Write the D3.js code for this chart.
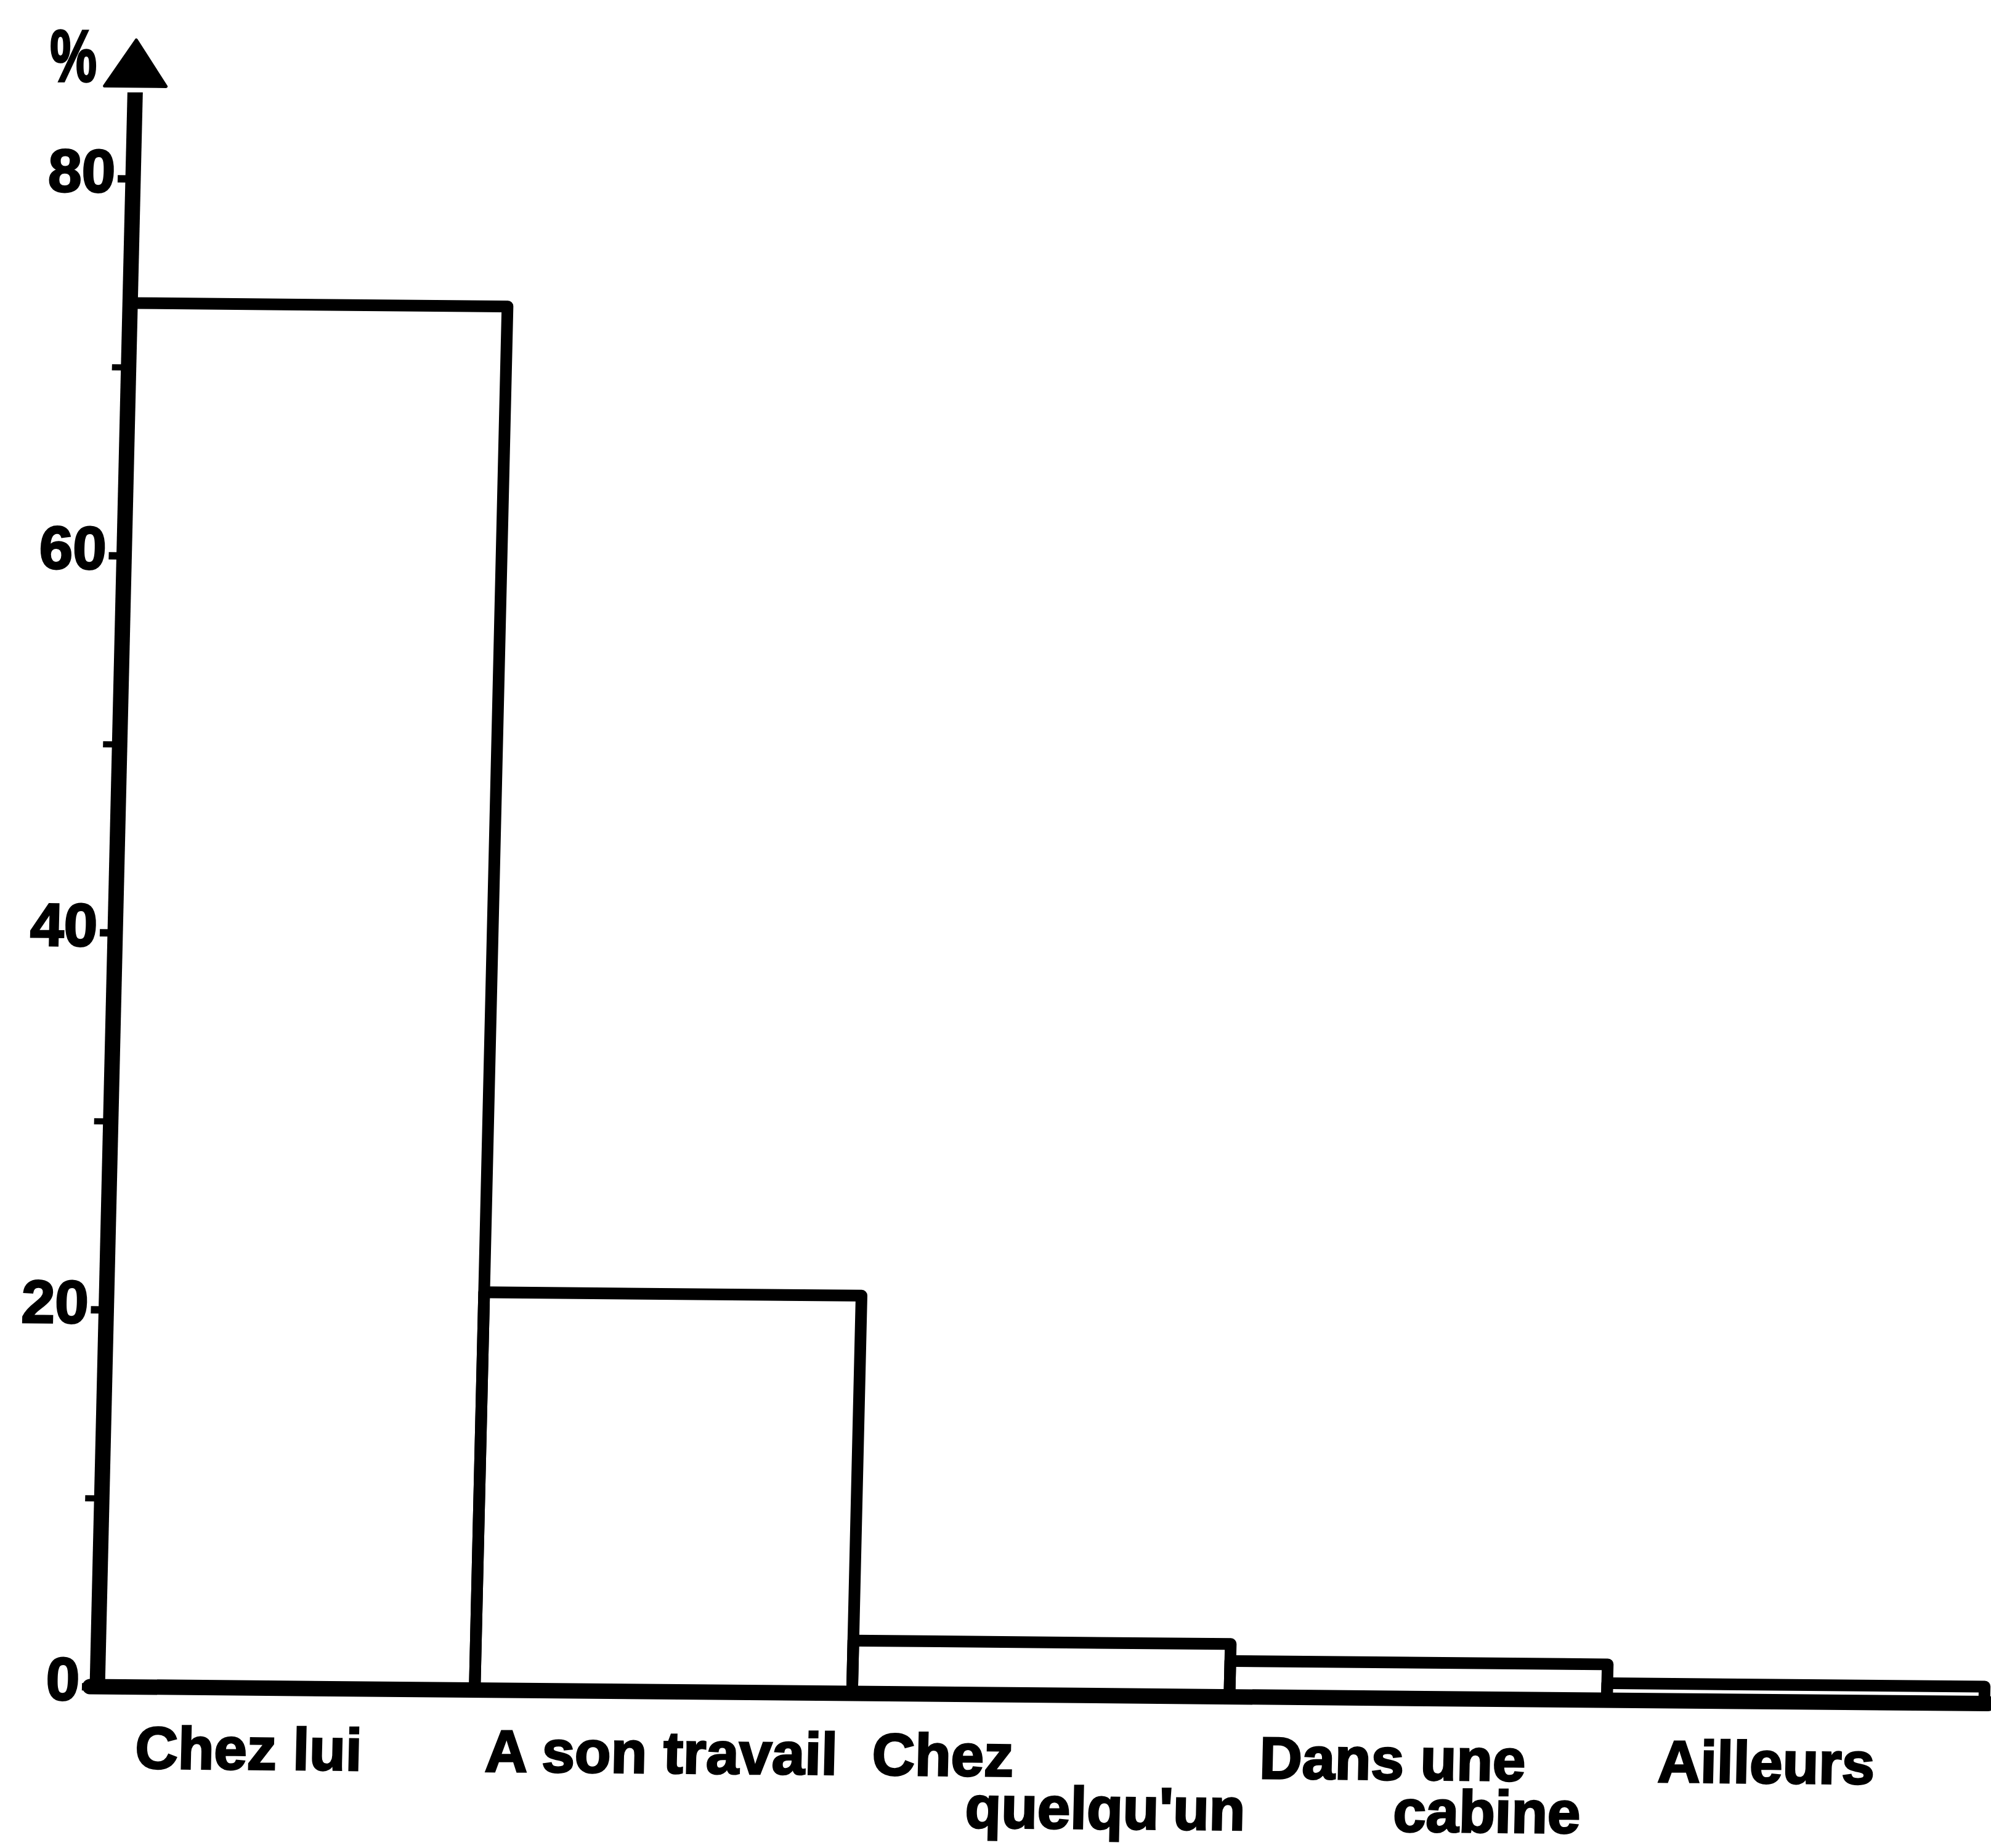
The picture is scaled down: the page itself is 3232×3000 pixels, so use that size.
<!DOCTYPE html>
<html>
<head>
<meta charset="utf-8">
<script src="https://cdn.jsdelivr.net/npm/d3@7"></script>
<style>
  body { margin: 0; background: #fff; }
  text { font-family: "Liberation Sans", Arial, sans-serif; font-weight: bold; fill: #000; stroke: #000; stroke-width: 3px; }
</style>
</head>
<body>
<svg id="bar-chart"></svg>
<script>
// data
let categories = ['Chez lui', 'A son travail', "Chez quelqu'un", 'Dans une cabine', 'Ailleurs'];
let labelLines = [['Chez lui'], ['A son travail'], ['Chez', "quelqu'un"], ['Dans une', 'cabine'], ['Ailleurs']];
let percents = [73.4, 21.1, 2.8, 1.9, 0.9];
let majorTicks = [0, 20, 40, 60, 80];
let minorTicks = [10, 30, 50, 70];
let axisTitle = '%';

// layout only: left offset of each label line inside its bar
let labelDx = [[64], [19], [35, 188], [51, 270], [85]];

let config = {
  'svg': {},
  'plot': {}
};

config.svg.width = 3232;
config.svg.height = 3000;

// origin of the axes (bottom left corner)
config.plot.x = 158;
config.plot.y = 2738;
config.plot.width = 3063;
config.plot.height = 2448; // height of the 80 tick
config.plot.axisTop = 2598; // arrow base
config.plot.arrowLen = 75;

// the scan is a little skewed: baseline drops to the right, y axis leans right
config.skew = { 'b': 0.009, 'c': -0.0237 };

let svg = d3.select('body').select('#bar-chart');
svg.attr('width', config.svg.width);
svg.attr('height', config.svg.height);

let plot = svg.append('g')
  .attr('id', 'plot')
  .attr('transform', 'matrix(1,' + config.skew.b + ',' + config.skew.c + ',1,' +
    config.plot.x + ',' + config.plot.y + ')');

let xScale = d3.scaleBand()
  .domain(categories)
  .range([0, config.plot.width])
  .padding(0);

let yScale = d3.scaleLinear()
  .domain([0, 80])
  .range([0, -config.plot.height]);

// bars (outlined, no fill)
plot.append('g').attr('id', 'bars')
  .selectAll('rect')
  .data(percents)
  .enter()
  .append('rect')
  .attr('x', (d, i) => xScale(categories[i]))
  .attr('y', d => yScale(d))
  .attr('width', xScale.bandwidth())
  .attr('height', d => -yScale(d))
  .attr('fill', 'none')
  .attr('stroke', '#000')
  .attr('stroke-width', 19)
  .attr('stroke-linejoin', 'round');

// minor ticks
let minorAxis = d3.axisLeft(yScale)
  .tickValues(minorTicks)
  .tickSize(27)
  .tickSizeOuter(0)
  .tickFormat('');

let minorGroup = plot.append('g').attr('id', 'y-minor');
minorGroup.call(minorAxis);
minorGroup.select('.domain').remove();
minorGroup.selectAll('line').attr('stroke', '#000').attr('stroke-width', 10);

// major ticks with labels
let yAxis = d3.axisLeft(yScale)
  .tickValues(majorTicks)
  .tickSize(25)
  .tickSizeOuter(0)
  .tickPadding(4);

let yGroup = plot.append('g').attr('id', 'y-axis');
yGroup.call(yAxis);
yGroup.select('.domain').remove();
yGroup.selectAll('line').attr('stroke', '#000').attr('stroke-width', 12);
yGroup.selectAll('text')
  .attr('font-size', 98)
  .attr('dy', '0.22em')
  .style('font-family', '"Liberation Sans", Arial, sans-serif')
  .style('font-weight', 'bold')
  .attr('fill', '#000');

// y axis line and arrow
plot.append('line')
  .attr('x1', 0).attr('y1', 12)
  .attr('x2', 0).attr('y2', -config.plot.axisTop + 10)
  .attr('stroke', '#000')
  .attr('stroke-width', 25);

plot.append('path')
  .attr('d', 'M-50,' + (-config.plot.axisTop) +
    ' L0,' + (-config.plot.axisTop - config.plot.arrowLen) +
    ' L50,' + (-config.plot.axisTop) + ' Z')
  .attr('fill', '#000')
  .attr('stroke', '#000')
  .attr('stroke-width', 5)
  .attr('stroke-linejoin', 'round');

// baseline
plot.append('line')
  .attr('x1', -12).attr('y1', 0)
  .attr('x2', config.plot.width + 6).attr('y2', 0)
  .attr('stroke', '#000')
  .attr('stroke-width', 25)
  .attr('stroke-linecap', 'round');

// category labels under the bars
let labels = plot.append('g').attr('id', 'x-labels');
labelLines.forEach(function(lines, i) {
  lines.forEach(function(line, j) {
    labels.append('text')
      .attr('x', xScale(categories[i]) + labelDx[i][j])
      .attr('y', 132 + j * 84)
      .attr('font-size', 96)
      .text(line);
  });
});

// axis title
svg.append('text')
  .attr('transform', translate(157, 132) + ' scale(0.82,1.15)')
  .attr('text-anchor', 'end')
  .attr('font-size', 104)
  .text(axisTitle);

// helper method to make translating easier
function translate(x, y) {
  return 'translate(' + x + ',' + y + ')';
}
</script>
</body>
</html>
